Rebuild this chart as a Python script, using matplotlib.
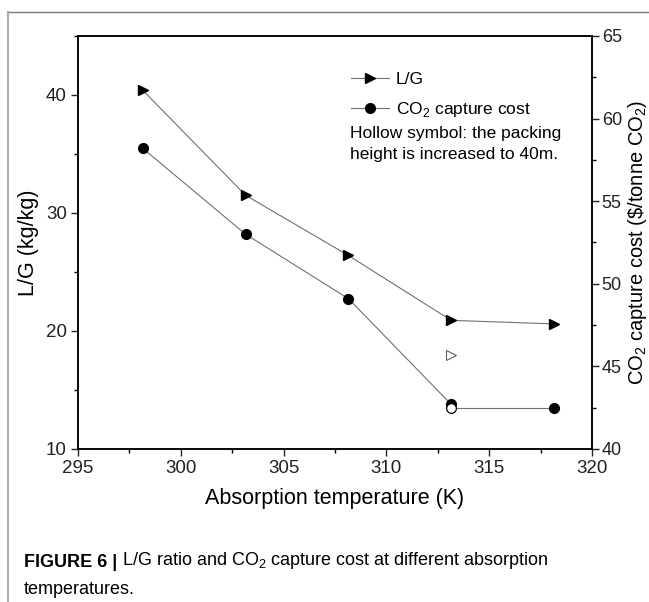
import matplotlib
matplotlib.use('Agg')
import matplotlib.pyplot as plt
from matplotlib.lines import Line2D
from matplotlib.ticker import MultipleLocator

plt.rcParams['font.family'] = ['Liberation Sans', 'DejaVu Sans']
plt.rcParams['mathtext.fontset'] = 'custom'
plt.rcParams['mathtext.rm'] = 'Liberation Sans'

temps = [298.15, 303.15, 308.15, 313.15, 318.15]
lg_ratio = [40.4, 31.5, 26.4, 20.9, 20.6]
capture_cost = [58.2, 53.0, 49.1, 42.7, 42.5]

hollow_temp = [313.15]
hollow_lg = [18.0]
hollow_cost = [42.5]

fig = plt.figure(figsize=(6.49, 6.02), dpi=100)
ax = fig.add_axes([0.1202, 0.2542, 0.792, 0.686])
ax2 = ax.twinx()

line_col = '#707070'
ax.plot(temps, lg_ratio, color=line_col, lw=0.8, marker='>', ms=7.5,
        mfc='black', mec='black', zorder=3)
ax.plot(hollow_temp, hollow_lg, ls='none', marker='>', ms=7.5,
        mfc='white', mec='#606060', mew=0.8)
# cost line: last segment starts from the hollow point
ax2.plot(temps[:4], capture_cost[:4], color=line_col, lw=0.8, marker='o', ms=7,
         mfc='black', mec='black', zorder=3)
ax2.plot([hollow_temp[0], temps[4]], [hollow_cost[0], capture_cost[4]],
         color=line_col, lw=0.8, zorder=2)
ax2.plot(temps[4:], capture_cost[4:], ls='none', marker='o', ms=7,
         mfc='black', mec='black', zorder=3)
ax2.plot(hollow_temp, hollow_cost, ls='none', marker='o', ms=7,
         mfc='white', mec='black', mew=0.9, zorder=4)

ax.set_xlim(295, 320)
ax.set_ylim(10, 45)
ax2.set_ylim(40, 65)
ax.xaxis.set_major_locator(MultipleLocator(5))
ax.xaxis.set_minor_locator(MultipleLocator(2.5))
ax.yaxis.set_major_locator(MultipleLocator(10))
ax.yaxis.set_minor_locator(MultipleLocator(5))
ax2.yaxis.set_major_locator(MultipleLocator(5))
ax2.yaxis.set_minor_locator(MultipleLocator(2.5))

for a in (ax, ax2):
    a.tick_params(which='major', direction='out', length=5, width=1, labelsize=13.5,
                  colors='#222222', pad=3)
    a.tick_params(which='minor', direction='out', length=3, width=1)
    for s in a.spines.values():
        s.set_linewidth(1.1)
ax2.tick_params(which='major', labelsize=13, pad=2)

ax.set_xlabel('Absorption temperature (K)', fontsize=15.5, labelpad=8)
ax.set_ylabel('L/G (kg/kg)', fontsize=15.5, labelpad=5)
ax2.set_ylabel('CO$_2$ capture cost (\\$/tonne CO$_2$)', fontsize=14.5)
ax2.yaxis.set_label_coords(1.066, 0.5)

handles = [
    Line2D([], [], color=line_col, lw=0.8, marker='>', ms=7.5, mfc='black', mec='black'),
    Line2D([], [], color=line_col, lw=0.8, marker='o', ms=7, mfc='black', mec='black'),
]
ax.legend(handles, ['L/G', 'CO$_2$ capture cost'], loc='upper left',
          bbox_to_anchor=(0.50, 0.95), frameon=False, fontsize=12.5,
          handlelength=2.2, handletextpad=0.4, labelspacing=0.7)
ax.text(0.529, 0.783, 'Hollow symbol: the packing\nheight is increased to 40m.',
        transform=ax.transAxes, fontsize=12.5, va='top', ha='left', linespacing=1.5)

# page frame lines
fig.add_artist(Line2D([8/649, 1], [1 - 12/602, 1 - 12/602], color='#777777', lw=1.0))
fig.add_artist(Line2D([8/649, 8/649], [0, 1 - 12/602], color='#aaaaaa', lw=1.5))

t1 = fig.text(24/649, 1 - 567/602, 'FIGURE 6 |', fontsize=13, fontweight='bold',
              va='baseline')
fig.add_artist(plt.Annotation(' L/G ratio and CO$_2$ capture cost at different absorption',
                              xy=(1, 0), xycoords=t1, va='bottom', ha='left',
                              fontsize=13))
fig.text(24/649, 1 - 594/602, 'temperatures.', fontsize=13, va='baseline')

fig.savefig('out.png', dpi=100)
